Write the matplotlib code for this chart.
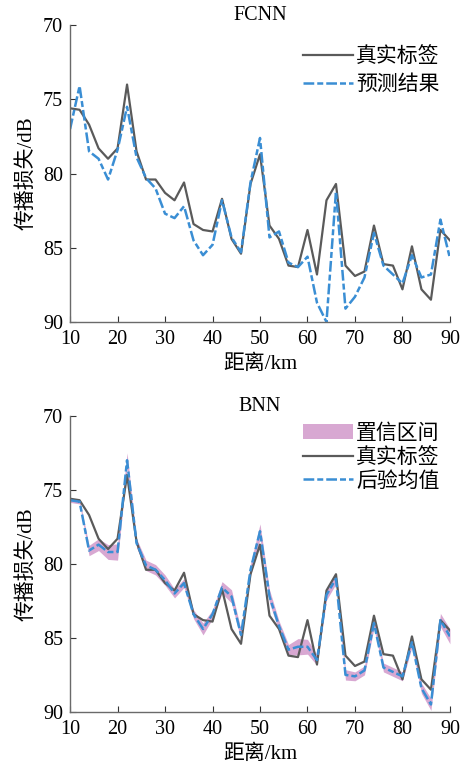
import matplotlib
matplotlib.use('Agg')
import matplotlib.pyplot as plt
import numpy as np

plt.rcParams['font.family'] = ['Liberation Serif', 'Noto Sans CJK SC']
plt.rcParams['font.size'] = 14
plt.rcParams['axes.unicode_minus'] = False

# 距离（km），每 2 km 一个采样点
distance = list(range(10, 91, 2))

# 真实传播损失 (dB)
true_loss = [75.6, 75.7, 76.7, 78.3, 79.0, 78.3, 74.0, 78.5, 80.4, 80.4,
             81.3, 81.8, 80.6, 83.4, 83.8, 83.9, 81.7, 84.4, 85.4, 80.7,
             78.7, 83.5, 84.4, 86.2, 86.3, 83.8, 86.8, 81.8, 80.7, 86.2,
             86.9, 86.6, 83.5, 86.1, 86.2, 87.8, 84.9, 87.8, 88.5, 83.8,
             84.5]

# FCNN 预测结果
fcnn_pred = [77.0, 74.1, 78.5, 79.0, 80.4, 78.4, 75.5, 78.9, 80.3, 81.0,
             82.7, 83.0, 82.2, 84.5, 85.5, 84.8, 81.8, 84.3, 85.3, 80.6,
             77.6, 84.3, 83.9, 86.0, 86.3, 85.6, 88.7, 90.0, 81.2, 89.1,
             88.3, 87.0, 84.0, 86.2, 86.8, 87.4, 85.5, 87.0, 86.8, 83.1,
             85.7]

# BNN 后验均值及置信区间半宽
bnn_mean = [75.7, 75.8, 79.1, 78.7, 79.2, 79.2, 73.0, 78.6, 80.1, 80.4,
            81.1, 82.0, 81.3, 83.4, 84.4, 83.4, 81.6, 82.2, 84.8, 80.4,
            77.8, 82.2, 84.2, 85.8, 85.6, 85.6, 86.5, 82.1, 81.0, 87.5,
            87.6, 87.2, 84.0, 87.0, 87.3, 87.6, 85.3, 88.4, 89.5, 83.8,
            84.9]
bnn_half = [0.15, 0.15, 0.35, 0.4, 0.5, 0.55, 0.5, 0.3, 0.35, 0.35,
            0.35, 0.3, 0.3, 0.3, 0.4, 0.3, 0.4, 0.45, 0.35, 0.4,
            0.5, 0.45, 0.35, 0.35, 0.55, 0.5, 0.35, 0.35, 0.35, 0.35,
            0.3, 0.3, 0.35, 0.3, 0.3, 0.3, 0.3, 0.35, 0.4, 0.45,
            0.5]

c_gray = '#5a5a5a'
c_blue = '#3a8ed4'
c_pink = '#d8a8d2'
dash = (4.3, 1.2, 2.4, 1.2)

fig = plt.figure(figsize=(4.61, 7.63), dpi=100)
ax1 = fig.add_axes([0.152, 0.578, 0.824, 0.389])
ax2 = fig.add_axes([0.152, 0.067, 0.824, 0.388])


def style_axes(ax, title):
    ax.set_xlim(10, 90)
    ax.set_ylim(90, 70)
    ax.set_xticks(range(10, 91, 10))
    ax.set_yticks(range(70, 91, 5))
    for s in ['top', 'right']:
        ax.spines[s].set_visible(False)
    for s in ['left', 'bottom']:
        ax.spines[s].set_color('#6a6a6a')
        ax.spines[s].set_linewidth(1.0)
    ax.tick_params(direction='in', length=4, color='#333333', labelsize=14.5)
    ax.tick_params(axis='x', pad=6)
    ax.tick_params(axis='y', pad=5)
    ax.set_xlabel('距离/km', fontsize=15, labelpad=4)
    ax.set_ylabel('传播损失/dB', fontsize=15, labelpad=5)
    ax.set_title(title, fontsize=14.5, pad=2)


x = np.array(distance)
leg_kw = dict(loc='upper right', frameon=False, fontsize=15, handlelength=2.4,
              handletextpad=0.15, borderaxespad=0.0)

# FCNN
ax1.plot(x, true_loss, color=c_gray, lw=1.6, label='真实标签')
ax1.plot(x, fcnn_pred, color=c_blue, lw=1.8, dashes=dash, label='预测结果')
style_axes(ax1, 'FCNN')
ax1.legend(labelspacing=0.42, bbox_to_anchor=(0.995, 0.955), **leg_kw)

# BNN
mean = np.array(bnn_mean)
half = np.array(bnn_half)
ax2.fill_between(x, mean - half, mean + half, color=c_pink, lw=0, label='置信区间')
ax2.plot(x, true_loss, color=c_gray, lw=1.6, label='真实标签')
ax2.plot(x, bnn_mean, color=c_blue, lw=1.8, dashes=dash, label='后验均值')
style_axes(ax2, 'BNN')
ax2.legend(labelspacing=0.2, bbox_to_anchor=(0.995, 1.0), **leg_kw)

fig.savefig('out.png', dpi=100)
